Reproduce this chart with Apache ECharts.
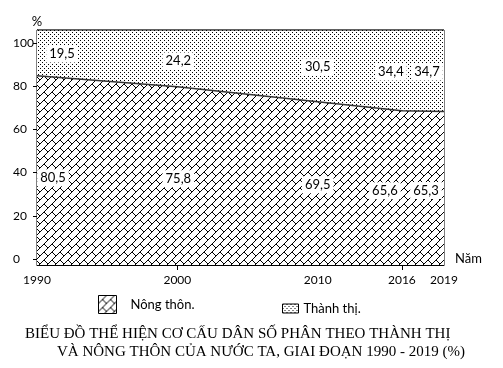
<!DOCTYPE html>
<html>
<head>
<meta charset="utf-8">
<title>Cơ cấu dân số</title>
<style>
body{margin:0;}
#chart{width:503px;height:368px;}
</style>
<script src="https://cdn.jsdelivr.net/npm/echarts@6/dist/echarts.min.js"></script>
</head>
<body>
<div id="chart"></div>
<script>
var years = [1990, 2000, 2010, 2016, 2019];
var nongThon = [80.5, 75.8, 69.5, 65.6, 65.3];
var thanhThi = [19.5, 24.2, 30.5, 34.4, 34.7];
var yTicks = [0, 20, 40, 60, 80, 100];
var titleLines = [
	'BIỂU ĐỒ THỂ HIỆN CƠ CẤU DÂN SỐ PHÂN THEO THÀNH THỊ',
	'VÀ NÔNG THÔN CỦA NƯỚC TA, GIAI ĐOẠN 1990 - 2019 (%)'
];

// label offsets (px) from each point
var lowOff = [[16, 102], [1, 92], [0, 83], [-17, 80], [-18, 79]];
var topOff = [[25, 24], [1, 31], [0, 37], [-11, 42], [-17, 42]];

function tile(w, h, dots){
	var c = document.createElement('canvas');
	c.width = w; c.height = h;
	var ctx = c.getContext('2d');
	ctx.fillStyle = '#fff';
	ctx.fillRect(0, 0, w, h);
	ctx.fillStyle = '#000';
	dots.forEach(function(d){ ctx.fillRect(d[0], d[1], 1, 1); });
	return {image: c, repeat: 'repeat'};
}

// diagonal brick
var brickRows = [0x01, 0x02, 0x04, 0x08, 0x18, 0x24, 0x42, 0x81];
var brickDots = [];
brickRows.forEach(function(bits, r){
	for(var b = 0; b < 8; b++){
		if(bits & (1 << b)) brickDots.push([7 - b, r]);
	}
});
var hatch = tile(8, 8, brickDots);
var dotted = tile(4, 4, [[0, 0], [2, 2]]);

// value first, year second: keeps the stack on y when both axes are 'value'
function pts(vals, offs){
	return vals.map(function(v, i){
		return {value: [v, years[i]], label: {offset: offs[i]}};
	});
}
function fmt(p){
	return String(p.value[0]).replace('.', ',');
}
var labelBase = {
	show: true,
	position: 'inside',
	formatter: fmt,
	fontFamily: 'Lato',
	fontSize: 13,
	color: '#000',
	backgroundColor: '#fff',
	padding: [2, 3]
};
var serif = {fontFamily: 'Liberation Serif', fontSize: 15, fontWeight: 'normal', color: '#000'};

var chart = echarts.init(document.getElementById('chart'));
chart.setOption({
	backgroundColor: '#fff',
	animation: false,
	title: [{
		text: titleLines[0],
		left: 20,
		top: 322,
		textStyle: serif
	}, {
		text: titleLines[1],
		left: 52,
		top: 340,
		textStyle: serif
	}],
	legend: [{
		data: [{name: 'Nông thôn', icon: 'rect', itemStyle: {color: hatch, borderColor: '#000', borderWidth: 1}}],
		left: 98,
		top: 295,
		padding: 0,
		itemWidth: 18,
		itemHeight: 18,
		selectedMode: false,
		formatter: '{name}.',
		textStyle: {fontFamily: 'Lato', fontSize: 13, color: '#000', padding: [0, 0, 0, 9]}
	}, {
		data: [{name: 'Thành thị', icon: 'rect', itemStyle: {color: dotted, borderColor: '#000', borderWidth: 1}}],
		left: 282,
		top: 302,
		padding: 0,
		itemWidth: 16,
		itemHeight: 9,
		selectedMode: false,
		formatter: '{name}.',
		textStyle: {fontFamily: 'Lato', fontSize: 13, color: '#000'}
	}],
	grid: [{
		left: 37, right: 59, top: 30, bottom: 103,
		show: true, borderColor: '#000', borderWidth: 1
	}, {
		// only carries the % tick labels, as placed in the original
		left: 37, right: 59, top: 43, bottom: 109
	}],
	xAxis: [{
		type: 'value',
		min: 1990,
		max: 2019,
		name: 'Năm',
		nameLocation: 'end',
		nameGap: 11,
		nameTextStyle: {fontFamily: 'Lato', fontSize: 13, color: '#000', verticalAlign: 'bottom'},
		axisLine: {lineStyle: {color: '#000', width: 1}},
		axisTick: {show: true, customValues: [2000, 2016], length: 5, lineStyle: {color: '#000'}},
		axisLabel: {
			customValues: years,
			margin: 9,
			fontFamily: 'Lato',
			fontSize: 12,
			color: '#000',
			formatter: function(v){ return String(v); }
		},
		splitLine: {show: false}
	}, {
		gridIndex: 1, type: 'value', min: 0, max: 1, show: false
	}],
	yAxis: [{
		type: 'value',
		min: 0,
		max: 100,
		name: '%',
		nameGap: 2,
		nameTextStyle: {fontFamily: 'Lato', fontSize: 13, color: '#000'},
		axisLine: {show: true, lineStyle: {color: '#000', width: 1}},
		axisTick: {show: false},
		axisLabel: {show: false},
		splitLine: {show: false}
	}, {
		gridIndex: 1,
		type: 'value',
		min: 0,
		max: 100,
		interval: 20,
		axisLine: {show: false},
		axisTick: {show: true, length: 4, lineStyle: {color: '#000'}},
		axisLabel: {
			customValues: yTicks,
			align: 'left',
			margin: 24,
			fontFamily: 'Lato',
			fontSize: 12,
			color: '#000'
		},
		splitLine: {show: false}
	}],
	series: [{
		name: 'Nông thôn',
		type: 'line',
		stack: 'total',
		encode: {x: 1, y: 0},
		symbol: 'circle',
		symbolSize: 1,
		itemStyle: {color: 'transparent'},
		lineStyle: {color: '#333', width: 1.5},
		areaStyle: {color: hatch, opacity: 1},
		data: pts(nongThon, lowOff),
		label: labelBase,
		z: 3
	}, {
		name: 'Thành thị',
		type: 'line',
		stack: 'total',
		encode: {x: 1, y: 0},
		symbol: 'circle',
		symbolSize: 1,
		itemStyle: {color: 'transparent'},
		lineStyle: {color: '#000', width: 1},
		areaStyle: {color: dotted, opacity: 1},
		data: pts(thanhThi, topOff),
		label: labelBase,
		z: 2
	}]
});
</script>
</body>
</html>
